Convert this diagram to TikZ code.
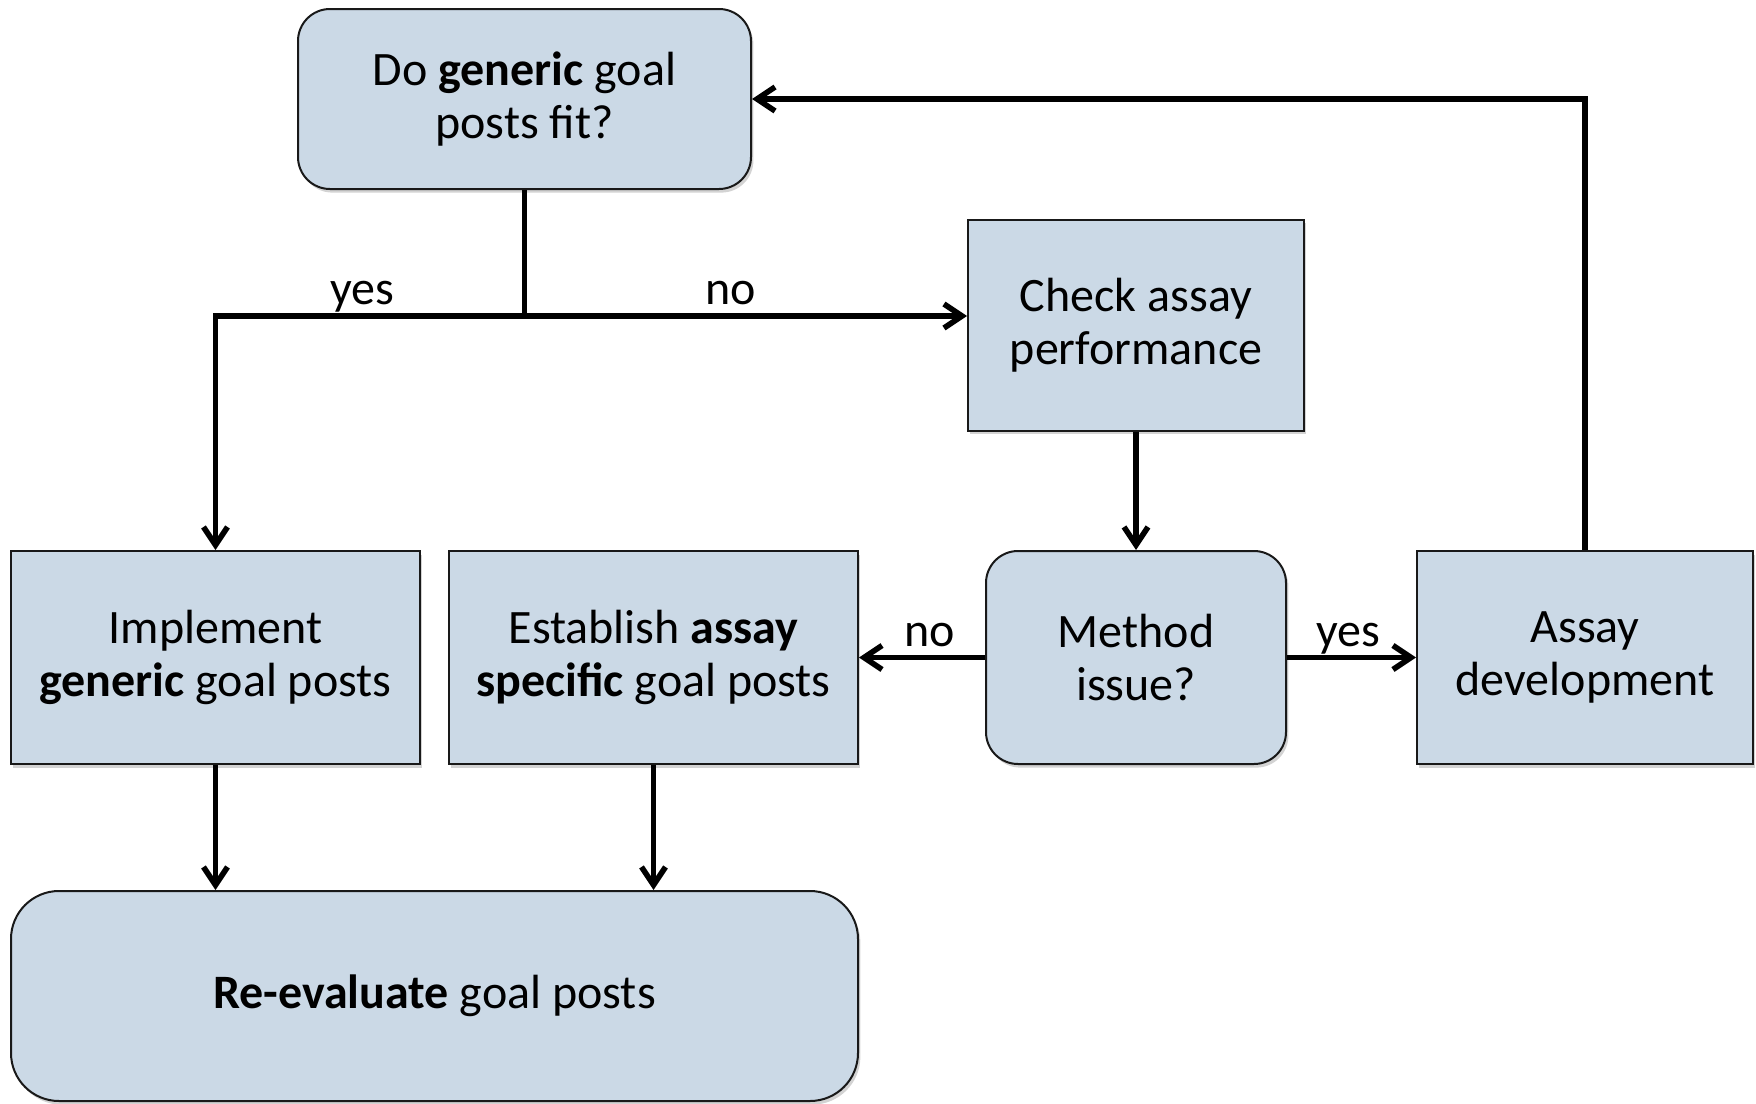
\documentclass[tikz,border=0pt]{standalone}
\usepackage{fontspec}
\setmainfont{Carlito}
\usetikzlibrary{arrows.meta,shadows}
\definecolor{boxfill}{RGB}{203,217,230}
\definecolor{boxline}{RGB}{25,25,25}
\tikzset{
  base/.style={draw=boxline, line width=1pt, fill=boxfill, align=center,
    font=\fontsize{24}{26.5}\selectfont, inner sep=0pt,
    drop shadow={opacity=0.35, shadow xshift=1.2pt, shadow yshift=-1.8pt}},
  sqbox/.style={base},
  rbox/.style={base, rounded corners=16pt},
  bigr/.style={base, rounded corners=24pt},
  conn/.style={line width=2.8pt, -{Straight Barb[length=9pt,width=12pt,line width=2.8pt]}},
  plainconn/.style={line width=2.8pt},
  lbl/.style={font=\fontsize{24}{26.5}\selectfont, inner sep=0pt, anchor=base}
}
\begin{document}
\begin{tikzpicture}[x=0.5pt,y=-0.5pt]
\useasboundingbox (0,0) rectangle (1756,1103);
\node[rbox, minimum width=226.5pt, minimum height=90pt] (fit) at (524.5,99) {Do \textbf{generic} goal\\posts fit?};
\node[sqbox, minimum width=168pt, minimum height=105.5pt] (check) at (1136,325) {Check assay\\performance};
\node[sqbox, minimum width=204.5pt, minimum height=106.5pt] (impl) at (215.5,657.5) {Implement\\\textbf{generic} goal posts};
\node[sqbox, minimum width=204.5pt, minimum height=106.5pt] (est) at (653.5,657.5) {Establish \textbf{assay}\\\textbf{specific} goal posts};
\node[rbox, minimum width=150pt, minimum height=106.5pt] (method) at (1136,657.5) {Method\\issue?};
\node[sqbox, minimum width=168pt, minimum height=106.5pt] (dev) at (1585,657.5) {Assay\\development};
\node[bigr, minimum width=423.5pt, minimum height=105pt] (reeval) at (434.5,996) {\textbf{Re-evaluate} goal posts};

\coordinate (j) at (524.5,316);
\draw[plainconn] (fit.south) -- (j);
\draw[conn] (j) -| (impl.north);
\draw[conn] (j) -- (check.west |- j);
\draw[conn] (check.south) -- (method.north);
\draw[conn] (method.west) -- (est.east);
\draw[conn] (method.east) -- (dev.west);
\draw[conn] (dev.north) |- (fit.east);
\draw[conn] (impl.south) -- (impl.south |- reeval.north);
\draw[conn] (est.south) -- (est.south |- reeval.north);

\node[lbl] (lyes1) at (362,304) {yes};
\node[lbl] (lno1) at (731,304) {no};
\node[lbl] (lno2) at (930,646) {no};
\node[lbl] (lyes2) at (1348,646) {yes};
\end{tikzpicture}
\end{document}
